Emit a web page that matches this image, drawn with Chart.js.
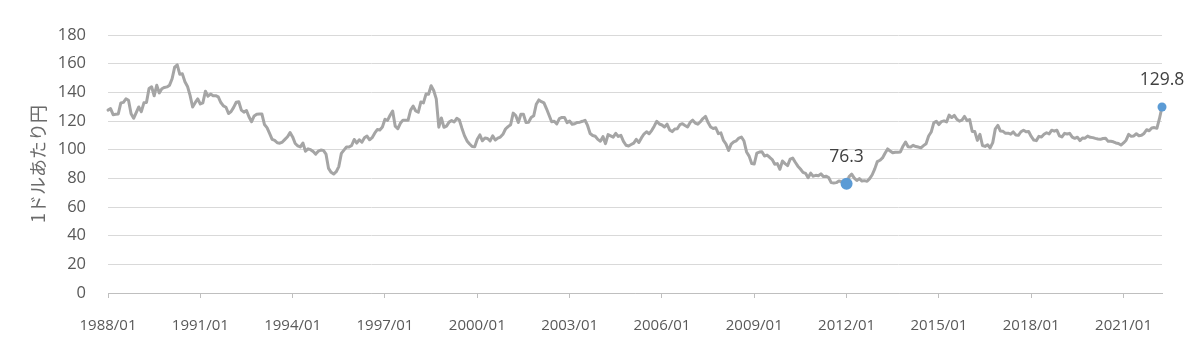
<!DOCTYPE html>
<html lang="ja">
<head>
<meta charset="utf-8">
<script src="https://cdn.jsdelivr.net/npm/chart.js@4"></script>
<style>
  html, body { margin: 0; padding: 0; background: #fff; }
  #chart { display: block; }
</style>
</head>
<body>
<canvas id="chart" width="1200" height="362"></canvas>
<script>
// === Data: USD/JPY month-end, 1988/01 - 2022/04 ===
const startYear = 1988;
const tickLabels = ["1988/01", "1991/01", "1994/01", "1997/01", "2000/01", "2003/01",
  "2006/01", "2009/01", "2012/01", "2015/01", "2018/01", "2021/01"];

const rates1988to1996 = [
  127.6, 128.6, 124.4, 124.7, 124.9, 132.6, 133.0, 135.5, 134.5, 125.0, 121.9, 125.9,
  129.8, 126.5, 132.7, 132.9, 142.7, 143.9, 137.6, 144.9, 139.6, 142.5, 143.4, 143.8,
  145.0, 149.5, 157.6, 159.1, 152.6, 152.9, 147.4, 144.1, 137.9, 129.8, 132.8, 135.4,
  131.9, 132.7, 140.8, 137.3, 138.8, 137.6, 137.7, 136.8, 132.9, 130.5, 129.6, 125.2,
  126.6, 129.5, 133.1, 133.4, 127.6, 126.2, 127.3, 122.8, 119.5, 123.5, 124.7, 124.8,
  124.9, 117.6, 115.4, 111.3, 107.2, 106.5, 104.8, 104.5, 105.3, 107.2, 109.0, 111.9,
  108.9, 104.3, 102.7, 101.9, 104.6, 98.9, 100.6, 100.0, 98.7, 96.9, 98.9, 99.7,
  99.5, 96.9, 86.9, 84.2, 83.0, 84.6, 88.2, 97.4, 99.7, 101.9, 101.8, 102.9,
  107.1, 104.6, 106.9, 105.2, 108.3, 109.5, 106.9, 108.4, 111.5, 114.0, 113.7, 115.8
];
const rates1997to2005 = [
  121.2, 120.4, 124.0, 127.0, 116.4, 114.6, 118.4, 120.6, 120.6, 120.5, 127.6, 130.4,
  127.0, 126.1, 133.3, 132.6, 138.8, 138.7, 144.6, 141.3, 135.4, 115.7, 122.1, 115.6,
  116.4, 119.2, 120.3, 119.3, 121.9, 120.7, 115.0, 109.8, 106.1, 104.0, 102.2, 102.1,
  107.3, 110.3, 106.2, 108.2, 107.8, 106.1, 109.6, 106.7, 108.1, 108.8, 110.7, 114.4,
  116.1, 117.4, 125.5, 123.8, 118.9, 124.7, 124.7, 118.9, 119.2, 122.4, 123.6, 131.7,
  134.7, 133.5, 132.7, 128.5, 124.0, 119.5, 119.8, 118.0, 121.7, 122.5, 122.5, 118.8,
  120.0, 117.7, 118.1, 119.0, 119.2, 119.8, 120.5, 116.9, 111.3, 109.9, 109.4, 107.2,
  105.9, 109.1, 104.2, 110.5, 109.6, 108.7, 111.4, 109.2, 110.0, 105.8, 103.1, 102.6,
  103.6, 104.6, 107.2, 105.0, 108.2, 110.9, 112.5, 111.1, 113.3, 116.4, 119.8, 117.9
];
const rates2006to2013 = [
  117.2, 115.8, 117.8, 113.8, 112.6, 114.4, 114.6, 117.4, 118.1, 116.9, 115.8, 119.0,
  120.6, 118.6, 117.8, 119.5, 121.7, 123.2, 118.9, 115.8, 114.8, 115.3, 111.2, 111.7,
  106.4, 103.9, 99.4, 103.9, 105.5, 106.2, 108.1, 108.8, 106.0, 98.4, 95.5, 90.3,
  90.0, 97.6, 98.3, 98.6, 95.6, 96.2, 94.7, 93.1, 89.8, 90.3, 86.3, 92.1,
  90.3, 88.9, 93.4, 94.1, 91.2, 88.5, 86.5, 84.2, 83.5, 80.4, 83.6, 81.5,
  82.1, 81.8, 83.1, 81.2, 81.5, 80.6, 77.0, 76.7, 77.0, 78.2, 77.6, 77.7,
  76.3, 81.2, 82.9, 80.2, 78.5, 79.8, 78.1, 78.4, 77.9, 79.8, 82.5, 86.6,
  91.7, 92.6, 94.2, 97.5, 100.5, 99.1, 97.8, 98.2, 98.2, 98.4, 102.4, 105.3
];
const rates2014to2022 = [
  102.0, 101.8, 103.0, 102.2, 101.8, 101.3, 102.8, 104.1, 109.5, 112.3, 118.7, 119.8,
  117.5, 119.6, 120.1, 119.4, 124.1, 122.4, 123.9, 121.2, 119.9, 120.6, 123.2, 120.2,
  121.0, 112.7, 112.6, 106.5, 110.7, 102.9, 102.3, 103.4, 101.2, 104.9, 114.5, 116.9,
  113.0, 112.8, 111.4, 111.5, 110.8, 112.4, 110.3, 110.0, 112.5, 113.6, 112.5, 112.7,
  109.2, 106.7, 106.3, 109.3, 108.8, 110.7, 111.8, 111.0, 113.6, 112.9, 113.6, 109.7,
  108.9, 111.4, 110.9, 111.4, 108.8, 107.9, 108.7, 106.3, 108.1, 108.0, 109.5, 108.6,
  108.4, 107.9, 107.5, 107.2, 107.8, 107.9, 105.8, 105.9, 105.5, 104.7, 104.3, 103.2,
  104.7, 106.6, 110.7, 109.3, 109.6, 111.1, 109.7, 110.0, 111.3, 113.9, 113.2, 115.1,
  115.4, 114.9, 121.6, 129.8
];

// highlighted points: 2012/01 low and latest month
const markedLabels = ["2012/01", "2022/04"];
const markedRadius = [6, 4.5];

const rates = [...rates1988to1996, ...rates1997to2005, ...rates2006to2013, ...rates2014to2022];

// month labels "YYYY/MM"
const months = rates.map((_, i) => {
  const y = startYear + Math.floor(i / 12);
  const m = (i % 12) + 1;
  return `${y}/${m < 10 ? "0" + m : m}`;
});

const markedIdx = markedLabels.map((l) => months.indexOf(l));

const FONT = "'Open Sans', sans-serif";

// === Value labels above the marked points ===
const valueLabels = {
  id: "valueLabels",
  afterDatasetsDraw(chart) {
    const { ctx } = chart;
    const meta = chart.getDatasetMeta(0);
    ctx.save();
    ctx.font = "17.5px " + FONT;
    ctx.fillStyle = "#404040";
    ctx.textAlign = "center";
    ctx.textBaseline = "middle";
    markedIdx.forEach((i) => {
      const pt = meta.data[i];
      ctx.fillText(rates[i].toFixed(1), pt.x, pt.y - 27);
    });
    ctx.restore();
  },
};

new Chart(document.getElementById("chart"), {
  type: "line",
  data: {
    labels: months,
    datasets: [
      {
        data: rates,
        borderColor: "#A5A5A5",
        borderWidth: 3,
        borderJoinStyle: "round",
        borderCapStyle: "round",
        tension: 0,
        pointRadius: (c) => {
          const k = markedIdx.indexOf(c.dataIndex);
          return k >= 0 ? markedRadius[k] : 0;
        },
        pointBackgroundColor: "#5B9BD5",
        pointBorderWidth: 0,
        clip: false,
      },
    ],
  },
  options: {
    responsive: false,
    animation: false,
    devicePixelRatio: 1,
    layout: { padding: { top: 35, right: 38, left: 0, bottom: 0 } },
    plugins: { legend: { display: false }, tooltip: { enabled: false } },
    scales: {
      x: {
        type: "category",
        offset: false,
        afterFit: (s) => { s.height = 69; },
        grid: {
          drawOnChartArea: false,
          tickLength: 5,
          color: "#BFBFBF",
        },
        border: { color: "#BFBFBF", width: 1 },
        ticks: {
          autoSkip: false,
          maxRotation: 0,
          minRotation: 0,
          padding: 19,
          color: "#595959",
          font: { family: FONT, size: 15 },
          callback: (v, i) => (tickLabels.includes(months[i]) ? months[i] : null),
        },
      },
      y: {
        min: 0,
        max: 180,
        afterFit: (s) => { s.width = 108; },
        grid: { color: "#D9D9D9", drawTicks: false },
        border: { display: false },
        ticks: {
          stepSize: 20,
          padding: 22,
          color: "#595959",
          font: { family: FONT, size: 16.5 },
        },
        title: {
          display: true,
          text: "1ドルあたり円",
          color: "#6b6b6b",
          padding: { top: 27, bottom: 0 },
          font: { family: "'Noto Sans CJK JP', sans-serif", size: 18 },
        },
      },
    },
  },
  plugins: [valueLabels],
});
</script>
</body>
</html>
